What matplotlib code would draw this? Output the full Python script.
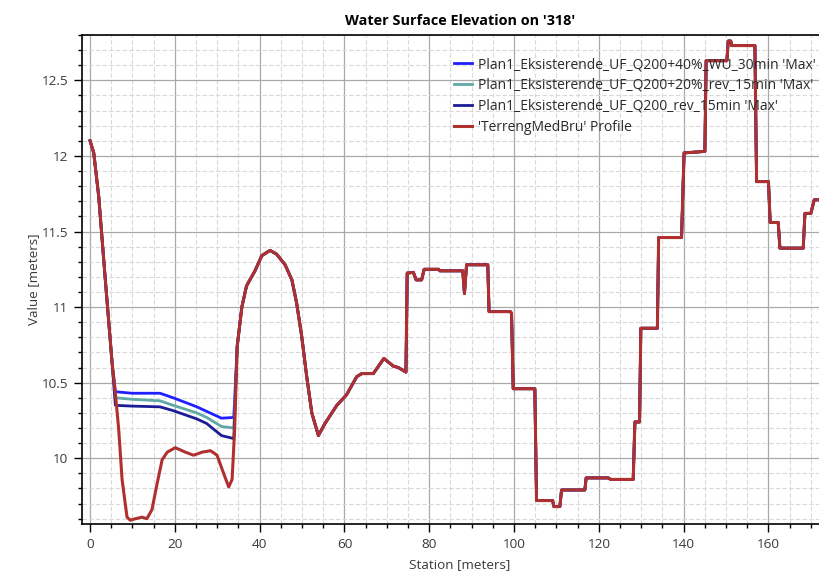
import numpy as np
import matplotlib
matplotlib.use('Agg')
from matplotlib import pyplot as plt
from matplotlib.ticker import MultipleLocator, FuncFormatter

plt.rcParams['font.family'] = ['Open Sans', 'DejaVu Sans']

# Terrain profile 'TerrengMedBru' (station [m], elevation [m])
station_terrain = [0.0, 0.87, 2.05, 3.6, 5.2, 5.97, 6.76, 7.55, 8.72, 9.5, 10.7, 12.26,
                   13.4, 14.6, 15.8, 17.0, 18.2, 20.1, 22.5, 24.4, 26.4, 28.4, 29.95,
                   31.5, 32.7, 33.5, 34.1, 34.7, 35.8, 36.9, 38.9, 40.5, 42.45, 44.0,
                   46.0, 47.6, 48.7, 49.9, 51.1, 52.3, 53.85, 55.4, 58.2, 60.5, 62.9,
                   64.1, 66.8, 69.3, 71.5, 72.7, 74.5, 74.8, 76.25, 76.9, 78.2, 78.8,
                   82.2, 82.5, 87.9, 88.3, 88.8, 93.8, 94.1, 99.1, 99.4, 99.8, 104.9,
                   105.3, 109.1, 109.4, 110.8, 111.2, 116.7, 117.0, 122.2, 122.8, 128.1,
                   128.5, 129.3, 129.6, 129.9, 133.8, 134.1, 139.5, 140.1, 145.0, 145.3,
                   150.2, 150.5, 151.1, 151.3, 156.8, 157.2, 160.0, 160.4, 162.3, 162.7,
                   168.2, 168.6, 170.0, 170.8, 172.5]
elev_terrain = [12.10, 12.02, 11.73, 11.18, 10.63, 10.43, 10.19, 9.86, 9.61, 9.59, 9.60, 9.61,
                9.60, 9.66, 9.83, 9.99, 10.04, 10.07, 10.04, 10.02, 10.04, 10.05, 10.02,
                9.90, 9.81, 9.86, 10.19, 10.74, 11.00, 11.14, 11.24, 11.34, 11.375, 11.35,
                11.28, 11.18, 11.03, 10.81, 10.54, 10.30, 10.15, 10.23, 10.35, 10.42, 10.54,
                10.56, 10.56, 10.66, 10.61, 10.60, 10.57, 11.225, 11.23, 11.18, 11.18, 11.25,
                11.25, 11.24, 11.24, 11.09, 11.28, 11.28, 10.97, 10.97, 10.96, 10.46, 10.46,
                9.72, 9.72, 9.68, 9.68, 9.79, 9.79, 9.87, 9.87, 9.86, 9.86,
                10.24, 10.24, 10.24, 10.86, 10.86, 11.46, 11.46, 12.02, 12.03, 12.63,
                12.63, 12.76, 12.76, 12.73, 12.73, 11.83, 11.83, 11.56, 11.56, 11.39,
                11.39, 11.62, 11.62, 11.71, 11.71]

# Max water surface in the ponded reach, per run
pond_station = [5.97, 9.9, 16.5, 19.6, 25.2, 27.5, 31.0, 33.9]
wse_q200_40 = [10.44, 10.43, 10.43, 10.40, 10.34, 10.31, 10.265, 10.27]
wse_q200_20 = [10.40, 10.39, 10.38, 10.35, 10.30, 10.27, 10.21, 10.20]
wse_q200 = [10.35, 10.345, 10.34, 10.315, 10.26, 10.23, 10.15, 10.13]
pond_end = 34.2   # water surface meets the terrain again here

labels = ["Plan1_Eksisterende_UF_Q200+40%_WU_30min 'Max'",
          "Plan1_Eksisterende_UF_Q200+20%_rev_15min 'Max'",
          "Plan1_Eksisterende_UF_Q200_rev_15min 'Max'",
          "'TerrengMedBru' Profile"]
colors = ['#1f1fff', '#5fa9a6', '#1c1c96', '#b03030']

st = np.array(station_terrain)
el = np.array(elev_terrain)


def water_profile(wse):
    # outside the pond the max water surface lies on the terrain
    before = st < pond_station[0]
    after = st > pond_end
    x = np.concatenate([st[before], pond_station, st[after]])
    y = np.concatenate([el[before], wse, el[after]])
    return x, y


fig = plt.figure(figsize=(8.19, 5.72), dpi=100)
ax = fig.add_axes([82 / 819, 1 - 524 / 572, 756 / 819, 489 / 572])

for wse, lab, col in zip([wse_q200_40, wse_q200_20, wse_q200], labels[:3], colors[:3]):
    x, y = water_profile(wse)
    ax.plot(x, y, color=col, lw=2.0, label=lab)
ax.plot(st, el, color=colors[3], lw=2.2, label=labels[3])

ax.set_xlim(-1.9, 176.4)
ax.set_ylim(9.565, 12.80)

ax.xaxis.set_major_locator(MultipleLocator(20))
ax.xaxis.set_minor_locator(MultipleLocator(5))
ax.yaxis.set_major_locator(MultipleLocator(0.5))
ax.yaxis.set_minor_locator(MultipleLocator(0.1))
ax.yaxis.set_major_formatter(FuncFormatter(lambda v, p: '{:g}'.format(round(v, 2))))

ax.grid(which='major', color='#a9a9a9', lw=0.9, ls='-')
ax.grid(which='minor', color='#d9d9d9', lw=0.8, ls=(0, (4, 2)))
ax.set_axisbelow(True)

ax.tick_params(which='major', direction='out', length=6, width=1, colors='black',
               labelcolor='#3a3a3a', labelsize=9.7, pad=4)
ax.tick_params(which='minor', direction='out', length=3, width=1, colors='black')
ax.spines['right'].set_visible(False)
for s in ['left', 'bottom', 'top']:
    ax.spines[s].set_linewidth(1.2)

ax.set_title("Water Surface Elevation on '318'", fontsize=10.4, fontweight='bold', pad=7)
ax.set_xlabel('Station [meters]', fontsize=9.7, color='#3a3a3a', labelpad=5)
ax.set_ylabel('Value [meters]', fontsize=9.7, color='#3a3a3a', labelpad=1)

leg = ax.legend(loc='upper left', bbox_to_anchor=(0.492, 0.955), frameon=False,
                fontsize=10.0, handlelength=1.3, handletextpad=0.4, labelspacing=0.42,
                borderaxespad=0, borderpad=0)
for t in leg.get_texts():
    t.set_color('#2a2a2a')

plt.savefig('out.png', dpi=100)
